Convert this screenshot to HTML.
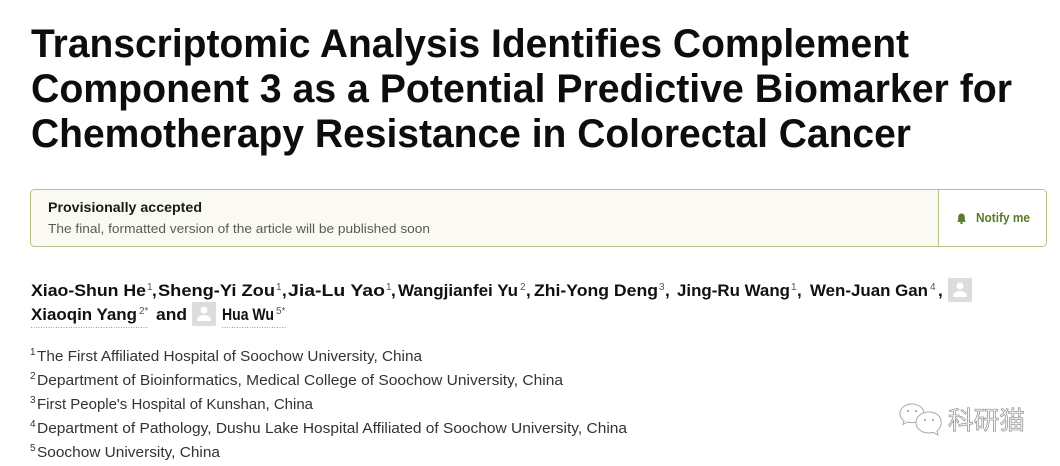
<!DOCTYPE html>
<html><head><meta charset="utf-8"><style>
html,body{margin:0;padding:0;background:#fff;}
svg{display:block;}
</style></head><body>
<svg width="1060" height="466" viewBox="0 0 1060 466" xmlns="http://www.w3.org/2000/svg" font-family="'Liberation Sans', sans-serif">
<rect width="1060" height="466" fill="#ffffff"/>
<!-- Title -->
<g font-weight="bold" font-size="40" fill="#0d0d0d">
<text x="31" y="57" textLength="878" lengthAdjust="spacingAndGlyphs">Transcriptomic Analysis Identifies Complement</text>
<text x="31" y="102" textLength="981" lengthAdjust="spacingAndGlyphs">Component 3 as a Potential Predictive Biomarker for</text>
<text x="31" y="147" textLength="880" lengthAdjust="spacingAndGlyphs">Chemotherapy Resistance in Colorectal Cancer</text>
</g>
<!-- Notification box -->
<rect x="30.5" y="189.5" width="1016" height="57" rx="4" ry="4" fill="#fafaf2" stroke="#b4c385" stroke-width="1"/>
<path d="M938.5 190 H1042.5 A3.5 3.5 0 0 1 1046 193.5 V242.5 A3.5 3.5 0 0 1 1042.5 246 H938.5 Z" fill="#ffffff"/>
<line x1="938.5" y1="190" x2="938.5" y2="246" stroke="#b4c385" stroke-width="1"/>
<text x="48" y="212" font-size="14" font-weight="bold" fill="#1a1a1a" textLength="154" lengthAdjust="spacingAndGlyphs">Provisionally accepted</text>
<text x="48" y="233" font-size="13" fill="#5a5a5a" textLength="382" lengthAdjust="spacingAndGlyphs">The final, formatted version of the article will be published soon</text>
<!-- bell -->
<g fill="#587a29">
<path d="M961.5 213.5 c-2.2 0 -3.3 1.8 -3.3 3.8 v3 l-1.2 1.6 h9 l-1.2 -1.6 v-3 c0 -2 -1.1 -3.8 -3.3 -3.8 z"/>
<circle cx="961.5" cy="223" r="1.2"/>
</g>
<text x="976" y="222" font-size="12.5" font-weight="bold" fill="#587a29" textLength="54" lengthAdjust="spacingAndGlyphs">Notify me</text>
<!-- Authors line 1 -->
<g font-size="17" font-weight="bold" fill="#111">
<text x="31" y="296" textLength="115" lengthAdjust="spacingAndGlyphs">Xiao-Shun He</text>
<text x="152" y="296">,</text>
<text x="158" y="296" textLength="117" lengthAdjust="spacingAndGlyphs">Sheng-Yi Zou</text>
<text x="282" y="296">,</text>
<text x="288" y="296" textLength="97" lengthAdjust="spacingAndGlyphs">Jia-Lu Yao</text>
<text x="391" y="296">,</text>
<text x="398" y="296" textLength="120" lengthAdjust="spacingAndGlyphs">Wangjianfei Yu</text>
<text x="526" y="296">,</text>
<text x="534" y="296" textLength="124" lengthAdjust="spacingAndGlyphs">Zhi-Yong Deng</text>
<text x="665" y="296">,</text>
<text x="677" y="296" textLength="113" lengthAdjust="spacingAndGlyphs">Jing-Ru Wang</text>
<text x="797" y="296">,</text>
<text x="810" y="296" textLength="118" lengthAdjust="spacingAndGlyphs">Wen-Juan Gan</text>
<text x="938" y="296">,</text>
<!-- line 2 -->
<text x="31" y="320" textLength="106" lengthAdjust="spacingAndGlyphs">Xiaoqin Yang</text>
<text x="156" y="320" textLength="31" lengthAdjust="spacingAndGlyphs">and</text>
<text x="222" y="320" textLength="52" lengthAdjust="spacingAndGlyphs">Hua Wu</text>
</g>
<g font-size="10" fill="#555">
<text x="147" y="290">1</text>
<text x="276" y="290">1</text>
<text x="386" y="290">1</text>
<text x="520" y="290">2</text>
<text x="659" y="290">3</text>
<text x="791" y="290">1</text>
<text x="930" y="290">4</text>
<text x="139" y="314">2*</text>
<text x="276" y="314">5*</text>
</g>
<line x1="31" y1="327.5" x2="148" y2="327.5" stroke="#999" stroke-width="1" stroke-dasharray="1,1.5"/>
<line x1="222" y1="327.5" x2="287" y2="327.5" stroke="#999" stroke-width="1" stroke-dasharray="1,1.5"/>
<!-- avatars -->
<g>
<rect x="948" y="278" width="24" height="24" fill="#dcdcdc"/>
<circle cx="960" cy="286" r="3.5" fill="#fff"/>
<path d="M953 297 q0 -6 7 -6 q7 0 7 6 z" fill="#fff"/>
<rect x="192" y="302" width="24" height="24" fill="#dcdcdc"/>
<circle cx="204" cy="310" r="3.5" fill="#fff"/>
<path d="M197 321 q0 -6 7 -6 q7 0 7 6 z" fill="#fff"/>
</g>
<!-- Affiliations -->
<g font-size="14.5" fill="#333">
<text x="37" y="361" textLength="385" lengthAdjust="spacingAndGlyphs">The First Affiliated Hospital of Soochow University, China</text>
<text x="37" y="385" textLength="526" lengthAdjust="spacingAndGlyphs">Department of Bioinformatics, Medical College of Soochow University, China</text>
<text x="37" y="409" textLength="276" lengthAdjust="spacingAndGlyphs">First People's Hospital of Kunshan, China</text>
<text x="37" y="433" textLength="590" lengthAdjust="spacingAndGlyphs">Department of Pathology, Dushu Lake Hospital Affiliated of Soochow University, China</text>
<text x="37" y="457" textLength="183" lengthAdjust="spacingAndGlyphs">Soochow University, China</text>
</g>
<g font-size="10" fill="#333">
<text x="30" y="355">1</text>
<text x="30" y="379">2</text>
<text x="30" y="403">3</text>
<text x="30" y="427">4</text>
<text x="30" y="451">5</text>
</g>
<!-- Watermark -->
<g fill="#fff" stroke="#a8a8a8" stroke-width="1">
<path d="M912 404 c-7 0 -12 4.5 -12 9.5 c0 3 1.6 5.5 4 7 l-1 4 l4.5 -2.5 c1.4 0.4 3 0.6 4.5 0.6 c6.5 0 12 -4.3 12 -9.3 c0 -5 -5.5 -9.3 -12 -9.3 z"/>
<path d="M929 412 c-7.5 0 -13 4.5 -13 10.5 c0 6 5.5 10.5 13 10.5 c1.6 0 3 -0.2 4.4 -0.6 l4.6 2.6 l-1 -4 c2.6 -1.8 4.2 -4.6 4.2 -8.5 c0 -6 -5 -10.5 -12.2 -10.5 z"/>
</g>
<g fill="#a8a8a8">
<circle cx="908" cy="411" r="1.1"/><circle cx="916" cy="411" r="1.1"/>
<circle cx="925" cy="420" r="1.1"/><circle cx="933" cy="420" r="1.1"/>
</g>
<text x="948" y="429" font-size="25" fill="#fdfdfd" stroke="#9a9a9a" stroke-width="0.8" font-family="'Liberation Sans','Noto Sans CJK SC',sans-serif" textLength="77" lengthAdjust="spacingAndGlyphs">科研猫</text>
</svg>
</body></html>
